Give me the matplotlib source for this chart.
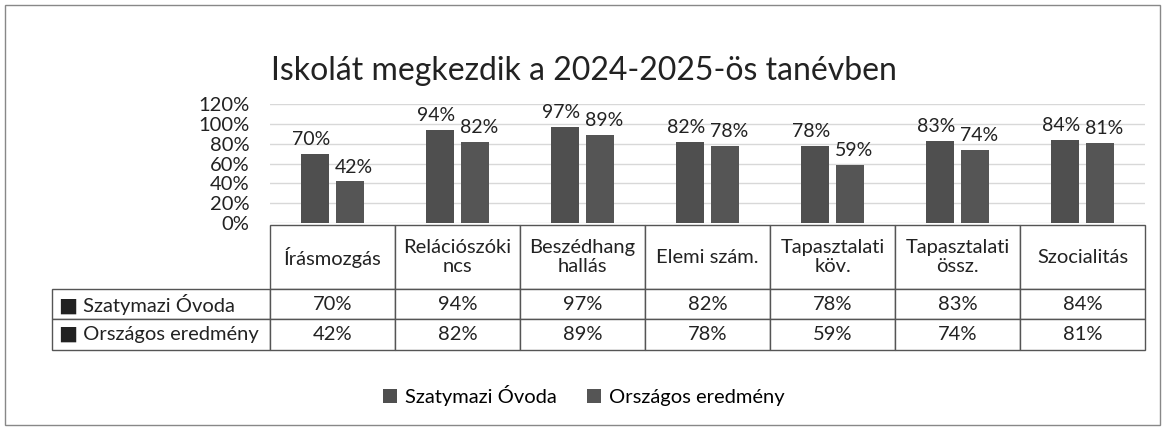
import numpy as np
import matplotlib.pyplot as plt
from matplotlib.patches import Rectangle

plt.rcParams['font.family'] = ['Lato', 'DejaVu Sans']

title = "Iskolát megkezdik a 2024-2025-ös tanévben"
categories = ["Írásmozgás", "Relációszóki\nncs", "Beszédhang\nhallás", "Elemi szám.",
              "Tapasztalati\nköv.", "Tapasztalati\nössz.", "Szocialitás"]
series_names = ["Szatymazi Óvoda", "Országos eredmény"]
szatymazi = [70, 94, 97, 82, 78, 83, 84]
orszagos = [42, 82, 89, 78, 59, 74, 81]
colors = ["#4f4f4f", "#555555"]

fig = plt.figure(figsize=(11.67, 4.43), dpi=100)
ax = fig.add_axes([0.2314, 0.4966, 0.7498, 0.2686])

x = np.arange(len(categories))
w = 0.22
off = 0.14
b1 = ax.bar(x - off, np.array(szatymazi) / 100, w, color=colors[0], zorder=3,
            label=series_names[0])
b2 = ax.bar(x + off, np.array(orszagos) / 100, w, color=colors[1], zorder=3,
            label=series_names[1])
for bars, vals, dx in ((b1, szatymazi, -3), (b2, orszagos, 3)):
    anns = ax.bar_label(bars, labels=[f"{v}%" for v in vals], padding=4, fontsize=14,
                        color="#222222")
    for a in anns:
        a.xyann = (dx, 4)

ax.set_xlim(-0.5, len(categories) - 0.5)
ax.set_ylim(0, 1.2)
ax.set_yticks(np.arange(0, 1.21, 0.2))
ax.set_yticklabels([f"{int(round(t * 100))}%" for t in np.arange(0, 1.21, 0.2)],
                   fontsize=14.5, color="#222222")
ax.tick_params(axis='y', length=0, pad=15)
ax.set_xticks([])
ax.grid(axis='y', color="#d8d8d8", linewidth=1, zorder=0)
for s in ax.spines.values():
    s.set_visible(False)

# data table under the plot
cell_text = [["■ " + series_names[0]] + [f"{v}%" for v in szatymazi],
             ["■ " + series_names[1]] + [f"{v}%" for v in orszagos]]
tbl = ax.table(cellText=cell_text, colLabels=[""] + categories, cellLoc='center',
               colWidths=[218 / 1093] + [125 / 1093] * len(categories),
               bbox=[-0.249, -1.067, 1.249, 1.05])
tbl.auto_set_font_size(False)
tbl.set_fontsize(14.5)
for (r, c), cell in tbl.get_celld().items():
    cell.set_edgecolor("#555555")
    cell.set_linewidth(1)
    cell.get_text().set_color("#222222")
    if r == 0:
        cell.set_height(cell.get_height() * 2.1)
        if c == 0:
            cell.visible_edges = ''
    if c == 0 and r > 0:
        cell._loc = 'left'
        cell.PAD = 0.03
        cell.get_text().set_horizontalalignment('left')

fig.text(0.5, 0.84, title, ha='center', va='center', fontsize=23, color="#222222")

fig.legend(handles=[b1, b2], loc='center', bbox_to_anchor=(0.5, 0.108), ncol=2,
           frameon=False, fontsize=14.5, handlelength=0.7, handleheight=0.7,
           handletextpad=0.4, columnspacing=1.5)

fig.patches.append(Rectangle((0.004, 0.04), 0.99, 0.948, transform=fig.transFigure,
                             fill=False, edgecolor="#888888", linewidth=1))

fig.savefig("out.png", dpi=100)
